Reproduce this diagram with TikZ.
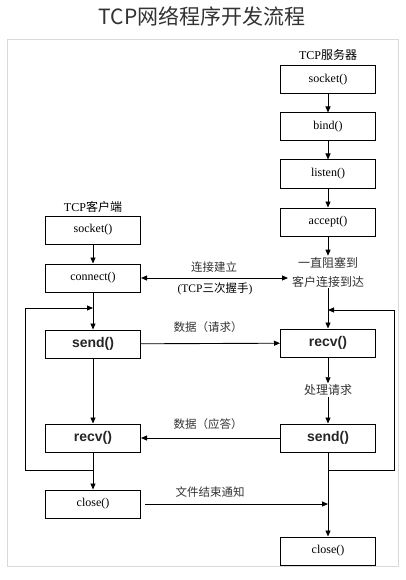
\documentclass[tikz,border=0pt]{standalone}
\usepackage{fontspec}
\setmainfont{Liberation Serif}
\newfontfamily\cjk{Noto Sans CJK SC}
\newfontfamily\bsans{Liberation Sans}
\usetikzlibrary{arrows.meta}
\begin{document}
\begin{tikzpicture}[x=1pt,y=-1pt,
  box/.style={draw, line width=1pt, minimum width=95pt, minimum height=28pt, inner sep=0pt, font=\fontsize{12}{14}\selectfont},
  bbox/.style={box, font=\bsans\bfseries\fontsize{14}{16}\selectfont, text=black!85},
  arr/.style={-{Triangle[length=6pt,width=5pt]}, line width=0.9pt},
  lbl/.style={font=\cjk\fontsize{11.5}{14}\selectfont, text=black!80, inner sep=1pt},
  head/.style={font=\fontsize{12}{14}\selectfont, inner sep=1pt}]
\useasboundingbox (0,0) rectangle (405,580);
\fill[white] (0,0) rectangle (405,580);
\node[font=\cjk\fontsize{21}{24}\selectfont, text=black!80] (title) at (202,16) {TCP网络程序开发流程};
\draw[black!15, line width=1pt] (7,40) rectangle (398,566);

% server
\node[head] (shead) at (328,55) {TCP{\cjk 服务器}};
\node[box] (ssock) at (328,80) {socket()};
\node[box] (sbind) at (328,127) {bind()};
\node[box] (slisten) at (328,174) {listen()};
\node[box] (saccept) at (328,222) {accept()};
\node[lbl, align=center, font=\cjk\fontsize{12}{19}\selectfont] (block) at (328,272) {一直阻塞到\\客户连接到达};
\node[lbl, font=\cjk\fontsize{12}{14}\selectfont] (proc) at (328,390) {处理请求};
\node[bbox] (srecv) at (328,343) {recv()};
\node[bbox] (ssend) at (328,438) {send()};
\node[box] (sclose) at (328,551) {close()};

% client
\node[head] (chead) at (93,207) {TCP{\cjk 客户端}};
\node[box] (csock) at (93,230) {socket()};
\node[box] (cconn) at (93,278) {connect()};
\node[bbox] (csend) at (93,344) {send()};
\node[bbox] (crecv) at (93,438) {recv()};
\node[box] (cclose) at (93,504) {close()};

% vertical arrows
\draw[arr] (ssock) -- (sbind);
\draw[arr] (sbind) -- (slisten);
\draw[arr] (slisten) -- (saccept);
\draw[arr] (saccept) -- (block);
\draw[arr] (block) -- (srecv);
\draw[arr] (srecv) -- (proc);
\draw[arr] (proc) -- (ssend);
\draw[arr] (ssend) -- (sclose);
\draw[arr] (csock) -- (cconn);
\draw[arr] (cconn) -- (csend);
\draw[arr] (csend) -- (crecv);
\draw[arr] (crecv) -- (cclose);

% loops
\coordinate (cl1) at (93,470);
\coordinate (cl2) at (25,470);
\coordinate (cl3) at (25,308);
\coordinate (cl4) at (93,308);
\draw[arr] (cl1) -- (cl2) -- (cl3) -- (cl4);
\coordinate (sl1) at (328,470);
\coordinate (sl2) at (394,470);
\coordinate (sl3) at (394,310);
\coordinate (sl4) at (328,310);
\draw[arr] (sl1) -- (sl2) -- (sl3) -- (sl4);

% horizontal messages
\coordinate (cw) at (288,278);
\draw[{Triangle[length=6pt,width=5pt]}-{Triangle[length=6pt,width=5pt]}, line width=0.9pt] (cconn.east) -- (cw);
\node[lbl] (l1) at (214,267) {连接建立};
\node[head, font=\fontsize{11.5}{13}\selectfont] (l2) at (215,289) {(TCP{\cjk 三次握手})};
\draw[arr] (csend) -- (srecv);
\node[lbl] (l3) at (208,327) {数据（请求）};
\draw[arr] (ssend) -- (crecv);
\node[lbl] (l4) at (208,424) {数据（应答）};
\coordinate (f1) at (145,504);
\coordinate (f2) at (328,504);
\draw[arr] (f1) -- (f2);
\node[lbl] (l5) at (210,492) {文件结束通知};
\end{tikzpicture}
\end{document}
